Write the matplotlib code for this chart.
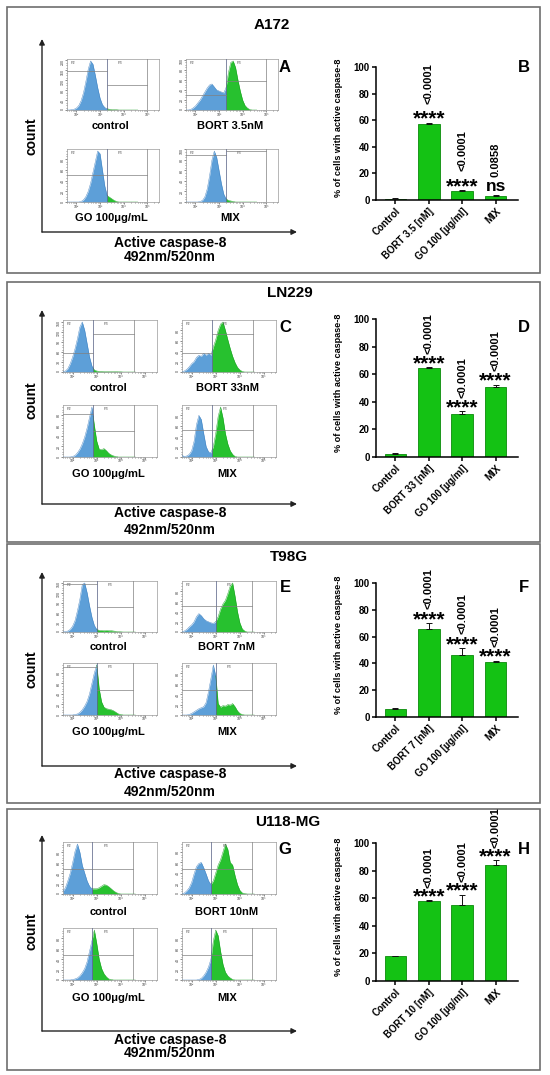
import numpy as np
import matplotlib
matplotlib.use('Agg')
import matplotlib.pyplot as plt
from matplotlib.patches import Rectangle
from matplotlib.ticker import AutoMinorLocator, LogLocator, NullFormatter, MaxNLocator

plt.rcParams['font.family'] = ['Liberation Sans', 'DejaVu Sans']
plt.rcParams['font.weight'] = 'bold'

W, H = 550, 1075

# ---------------- data ----------------
cell_lines = ['A172', 'LN229', 'T98G', 'U118-MG']
bort_dose = ['3.5', '33', '7', '10']

# % of cells with active caspase-8 (Control, BORT, GO, MIX)
a172_mean = [1.0, 57.0, 7.0, 3.0]
a172_err = [0.3, 1.2, 0.5, 0.4]
ln229_mean = [2.5, 64.5, 31.0, 51.0]
ln229_err = [0.4, 0.5, 2.2, 1.5]
t98g_mean = [6.0, 65.5, 46.0, 41.0]
t98g_err = [0.5, 4.5, 5.5, 1.0]
u118_mean = [18.0, 58.0, 55.0, 84.0]
u118_err = [0.4, 0.5, 7.5, 3.5]

a172_sig = ['', '****', '****', 'ns']
a172_p = ['', '<0.0001', '<0.0001', '0.0858']
ln229_sig = ['', '****', '****', '****']
ln229_p = ['', '<0.0001', '<0.0001', '<0.0001']
t98g_sig = ['', '****', '****', '****']
t98g_p = ['', '<0.0001', '<0.0001', '<0.0001']
u118_sig = ['', '****', '****', '****']
u118_p = ['', '<0.0001', '<0.0001', '<0.0001']

# flow cytometry histograms: counts per log10 bin
hist_log10 = [1.6, 1.7, 1.8, 1.9, 2.0, 2.1, 2.2, 2.3, 2.4, 2.5, 2.6, 2.7, 2.8, 2.9, 3.0, 3.1,
              3.2, 3.3, 3.4, 3.5, 3.6, 3.7, 3.8, 3.9, 4.0, 4.1, 4.2, 4.3, 4.4, 4.5, 4.6]

a172_control = [0, 0, 1, 3, 8, 18, 38, 70, 115, 165, 198, 185, 140, 90, 48, 22, 10, 5, 3, 2, 1, 1, 0, 0, 0, 0, 0, 0, 0, 0, 0]
a172_bort = [0, 0, 1, 4, 8, 14, 20, 28, 36, 44, 50, 52, 46, 40, 38, 36, 34, 45, 75, 95, 98, 85, 60, 38, 20, 9, 4, 1, 0, 0, 0]
a172_go = [0, 0, 0, 0, 0, 0, 1, 4, 10, 20, 35, 55, 75, 95, 90, 60, 30, 12, 9, 6, 3, 1, 0, 0, 0, 0, 0, 0, 0, 0, 0]
a172_mix = [0, 0, 0, 0, 0, 0, 1, 3, 10, 25, 50, 80, 97, 85, 60, 35, 15, 6, 3, 2, 1, 0, 0, 0, 0, 0, 0, 0, 0, 0, 0]

ln229_control = [1, 3, 10, 25, 45, 70, 100, 135, 150, 125, 85, 45, 18, 6, 3, 2, 2, 1.5, 1.5, 1, 1, 1, 1, 0.5, 0.5, 0, 0, 0, 0, 0, 0]
ln229_bort = [0, 2, 5, 10, 16, 20, 28, 32, 30, 36, 32, 36, 32, 48, 62, 80, 92, 96, 80, 62, 45, 30, 18, 9, 4, 1, 0, 0, 0, 0, 0]
ln229_go = [0, 0, 0, 0, 1, 3, 8, 15, 25, 38, 55, 75, 95, 60, 30, 15, 14, 16, 12, 7, 4, 2, 1, 0, 0, 0, 0, 0, 0, 0, 0]
ln229_mix = [3, 1, 2, 5, 12, 30, 62, 80, 72, 45, 20, 10, 8, 20, 45, 78, 96, 75, 45, 25, 12, 5, 1, 0, 0, 0, 0, 0, 0, 0, 0]

t98g_control = [0, 1, 3, 8, 18, 35, 65, 100, 145, 150, 120, 80, 45, 20, 8, 5, 5, 4, 5, 4, 4, 3, 2, 1, 0.5, 0, 0, 0, 0, 0, 0]
t98g_bort = [0, 2, 5, 10, 14, 20, 30, 36, 32, 26, 22, 20, 18, 17, 20, 30, 45, 55, 62, 75, 90, 96, 70, 40, 18, 6, 2, 0, 0, 0, 0]
t98g_go = [0, 0, 0, 0, 0, 1, 2, 5, 10, 17, 26, 40, 60, 80, 95, 50, 25, 15, 12, 11, 10, 8, 5, 2, 1, 0, 0, 0, 0, 0, 0]
t98g_mix = [0, 0, 0, 1, 3, 6, 9, 12, 14, 16, 24, 45, 70, 96, 75, 22, 15, 18, 17, 20, 19, 22, 16, 8, 3, 1, 0, 0, 0, 0, 0]

u118_control = [5, 12, 25, 40, 60, 82, 96, 80, 55, 40, 25, 15, 10, 10, 10, 12, 15, 18, 17, 14, 10, 6, 3, 1, 0, 0, 0, 0, 0, 0, 0]
u118_bort = [0, 2, 6, 12, 22, 38, 52, 58, 60, 50, 38, 25, 18, 25, 40, 55, 65, 80, 95, 85, 60, 55, 35, 18, 7, 2, 1, 0, 0, 0, 0]
u118_go = [0, 0, 0, 0, 1, 2, 4, 8, 14, 22, 35, 55, 75, 96, 70, 40, 22, 12, 6, 2, 1, 0, 0, 0, 0, 0, 0, 0, 0, 0, 0]
u118_mix = [0, 0, 0, 0, 0, 0, 0, 1, 3, 8, 15, 25, 40, 75, 96, 85, 55, 30, 15, 8, 4, 1, 0, 0, 0, 0, 0, 0, 0, 0, 0]

# gate positions (log10) per cell line: P2/P3 border and P3 right end
gate_p2 = [3.3, 2.85, 3.0, 2.82]
gate_p3 = [5.0, 4.55, 4.5, 4.5]

# ---------------- layout (pixels) ----------------
layout = [
    dict(box=(7, 273), title_x=272, title_y=25, row1=(59, 110), row2=(149, 202), lab1=126, lab2=218,
         base=232, tip=39, count_y=136, txt1=243, txt2=257, bar=(67, 200), letter_y=67,
         cols=((67, 159), (186, 278)), p_off=13.5,
         hlines=[(0.76, 0.49), (0.29, 0.57), (0.51, 0.51), (0.89, 0.97)]),
    dict(box=(282, 542), title_x=290, title_y=293, row1=(320, 372), row2=(405, 457), lab1=388, lab2=474,
         base=504, tip=310, count_y=400, txt1=513, txt2=530, bar=(319, 457), letter_y=328,
         cols=((63, 157), (182, 276)), p_off=9.5,
         hlines=[(0.37, 0.74), (0.37, 0.73), (0.83, 0.50), (0.52, 0.52)]),
    dict(box=(544, 803), title_x=289, title_y=557, row1=(581, 632), row2=(663, 715), lab1=647, lab2=732,
         base=766, tip=572, count_y=669, txt1=774, txt2=792, bar=(583, 717), letter_y=588,
         cols=((63, 157), (182, 276)), p_off=10.0,
         hlines=[(0.94, 0.50), (0.51, 0.51), (0.92, 0.48), (0.48, 0.48)]),
    dict(box=(809, 1070), title_x=288, title_y=822, row1=(842, 894), row2=(928, 980), lab1=912, lab2=998,
         base=1031, tip=835, count_y=931, txt1=1040, txt2=1053, bar=(843, 981), letter_y=850,
         cols=((63, 157), (182, 276)), p_off=9.0,
         hlines=[(0.49, 0.49), (0.49, 0.49), (0.49, 0.49), (0.49, 0.49)]),
]

means = [a172_mean, ln229_mean, t98g_mean, u118_mean]
errs = [a172_err, ln229_err, t98g_err, u118_err]
sigs = [a172_sig, ln229_sig, t98g_sig, u118_sig]
pvals = [a172_p, ln229_p, t98g_p, u118_p]
hists = [[a172_control, a172_bort, a172_go, a172_mix],
         [ln229_control, ln229_bort, ln229_go, ln229_mix],
         [t98g_control, t98g_bort, t98g_go, t98g_mix],
         [u118_control, u118_bort, u118_go, u118_mix]]
letters = [('A', 'B'), ('C', 'D'), ('E', 'F'), ('G', 'H')]

BLUE = '#5d9fd8'
BLUE_EDGE = '#3f7fbf'
GREEN = '#27c12f'
GREEN_EDGE = '#179a1e'
BAR_GREEN = '#14c214'
GRID_GRAY = '#808080'


def rect(x0, y0, x1, y1):
    return [x0 / W, 1 - y1 / H, (x1 - x0) / W, (y1 - y0) / H]


def draw_hist(ax, counts, g2, g3, h2, h3):
    lx = np.array(hist_log10)
    y = np.array(counts, dtype=float)
    yg = np.interp(g2, lx, y)
    left = lx < g2
    xb = np.concatenate([lx[left], [g2]])
    yb = np.concatenate([y[left], [yg]])
    xr = np.concatenate([[g2], lx[~left]])
    yr = np.concatenate([[yg], y[~left]])
    ax.fill_between(10 ** xb, 0, yb, color=BLUE, lw=0, zorder=2)
    ax.fill_between(10 ** xr, 0, yr, color=GREEN, lw=0, zorder=2)
    ax.plot(10 ** xb, yb, color=BLUE_EDGE, lw=0.3, zorder=3)
    ax.plot(10 ** xr, yr, color=GREEN_EDGE, lw=0.3, zorder=3)
    ax.set_xscale('log')
    ax.set_xlim(10 ** 1.6, 10 ** 5.5)
    ymax = max(y) * 1.04
    ax.set_ylim(0, ymax)
    ax.axvline(10 ** g2, color='#505a80', lw=0.5, zorder=4)
    ax.axvline(10 ** g3, color=GRID_GRAY, lw=0.5, zorder=4)
    ax.plot([10 ** 1.6, 10 ** g2], [h2 * ymax] * 2, color=GRID_GRAY, lw=0.5, zorder=4)
    ax.plot([10 ** g2, 10 ** g3], [h3 * ymax] * 2, color=GRID_GRAY, lw=0.5, zorder=4)
    ax.text(10 ** 1.75, 0.9 * ymax, 'P2', fontsize=2.8, color='#555555', fontweight='normal')
    ax.text(10 ** (g2 + 0.45), 0.9 * ymax, 'P3', fontsize=2.8, color='#555555', fontweight='normal')
    ax.set_xticks([1e2, 1e3, 1e4, 1e5])
    ax.set_xticklabels(['10²', '10³', '10⁴', '10⁵'], fontsize=2.6, fontweight='normal')
    ax.xaxis.set_minor_locator(LogLocator(base=10, subs=np.arange(2, 10)))
    ax.xaxis.set_minor_formatter(NullFormatter())
    ax.yaxis.set_major_locator(MaxNLocator(nbins=6, integer=True))
    ax.yaxis.set_minor_locator(AutoMinorLocator(4))
    for lab in ax.get_yticklabels():
        lab.set_fontweight('normal')
    ax.tick_params(axis='both', which='major', length=1.2, width=0.4, pad=0.6, labelsize=2.6,
                   colors='#333333')
    ax.tick_params(axis='y', labelrotation=90)
    ax.tick_params(axis='both', which='minor', length=0.7, width=0.3)
    for s in ax.spines.values():
        s.set_color('#9a9a9a')
        s.set_linewidth(0.5)


def draw_bars(ax, m, e, labels, sig, pv, p_off):
    x = np.arange(len(m))
    ax.bar(x, m, width=0.65, color=BAR_GREEN, edgecolor='#0b8a0b', lw=0.6, zorder=2)
    ax.errorbar(x, m, yerr=[np.zeros(len(m)), e], fmt='none', ecolor='#111111',
                elinewidth=0.7, capsize=2.4, capthick=0.7, zorder=3)
    ax.set_xlim(-0.58, 3.67)
    ax.set_ylim(0, 100)
    ax.set_yticks([0, 20, 40, 60, 80, 100])
    ax.set_xticks(x)
    ax.set_xticklabels(labels, rotation=45, ha='right', rotation_mode='anchor',
                       fontsize=7, fontweight='bold')
    for lab in ax.get_yticklabels():
        lab.set_fontweight('bold')
    ax.tick_params(axis='both', width=1.1, length=3, labelsize=7, pad=1.5)
    for s in ('top', 'right'):
        ax.spines[s].set_visible(False)
    for s in ('left', 'bottom'):
        ax.spines[s].set_linewidth(1.1)
    ax.set_facecolor('none')
    ax.set_ylabel('% of cells with active caspase-8', fontsize=6.6, fontweight='bold')
    ax.yaxis.set_label_coords(-0.235, 0.54)
    for i in range(len(m)):
        top = m[i] + e[i]
        if sig[i] == '****':
            ax.annotate(sig[i], (x[i], top), xytext=(0, -1.5), textcoords='offset points',
                        ha='center', va='baseline', fontsize=15, fontweight='bold',
                        annotation_clip=False)
        elif sig[i]:
            ax.annotate(sig[i], (x[i], top), xytext=(0, 3), textcoords='offset points',
                        ha='center', va='baseline', fontsize=12.5, fontweight='bold',
                        annotation_clip=False)
        if pv[i]:
            ax.annotate(pv[i], (x[i], top), xytext=(0, p_off), textcoords='offset points',
                        ha='center', va='bottom', rotation=90, fontsize=8, fontweight='bold',
                        annotation_clip=False)


fig = plt.figure(figsize=(W / 100, H / 100), dpi=100)
ov = fig.add_axes([0, 0, 1, 1])
ov.set_xlim(0, W)
ov.set_ylim(H, 0)
ov.axis('off')

for k, L in enumerate(layout):
    y0, y1 = L['box']
    ov.add_patch(Rectangle((7, y0), 533, y1 - y0, fill=False, edgecolor='#6e6e6e', lw=1.2))
    ov.text(L['title_x'], L['title_y'], cell_lines[k], ha='center', va='center',
            fontsize=11, fontweight='bold')
    # big axis arrows
    arrow = dict(arrowstyle='-|>', color='#222222', lw=1.0, mutation_scale=8, shrinkA=0, shrinkB=0)
    ov.annotate('', xy=(42, L['tip']), xytext=(42, L['base']), arrowprops=arrow)
    ov.annotate('', xy=(297, L['base']), xytext=(42, L['base']), arrowprops=arrow)
    ov.text(32, L['count_y'], 'count', rotation=90, ha='center', va='center',
            fontsize=10, fontweight='bold')
    ov.text(170, L['txt1'], 'Active caspase-8', ha='center', va='center', fontsize=10, fontweight='bold')
    ov.text(170, L['txt2'], '492nm/520nm', ha='center', va='center', fontsize=10, fontweight='bold')
    ov.text(285, L['letter_y'], letters[k][0], ha='center', va='center', fontsize=12, fontweight='bold')
    ov.text(524, L['letter_y'], letters[k][1], ha='center', va='center', fontsize=12, fontweight='bold')

    names = ['control', 'BORT %snM' % bort_dose[k], 'GO 100μg/mL', 'MIX']
    for j in range(4):
        cx0, cx1 = L['cols'][j % 2]
        ry0, ry1 = L['row1'] if j < 2 else L['row2']
        ax = fig.add_axes(rect(cx0, ry0, cx1, ry1))
        h2, h3 = L['hlines'][j]
        draw_hist(ax, hists[k][j], gate_p2[k], gate_p3[k], h2, h3)
        ly = L['lab1'] if j < 2 else L['lab2']
        ov.text((cx0 + cx1) / 2 - 2, ly, names[j], ha='center', va='center',
                fontsize=8, fontweight='bold')

    by100, by0 = L['bar']
    bax = fig.add_axes(rect(376, by100, 518, by0))
    labels = ['Control', 'BORT %s [nM]' % bort_dose[k], 'GO 100 [µg/ml]', 'MIX']
    draw_bars(bax, means[k], errs[k], labels, sigs[k], pvals[k], L['p_off'])

fig.savefig('out.png', dpi=100)
